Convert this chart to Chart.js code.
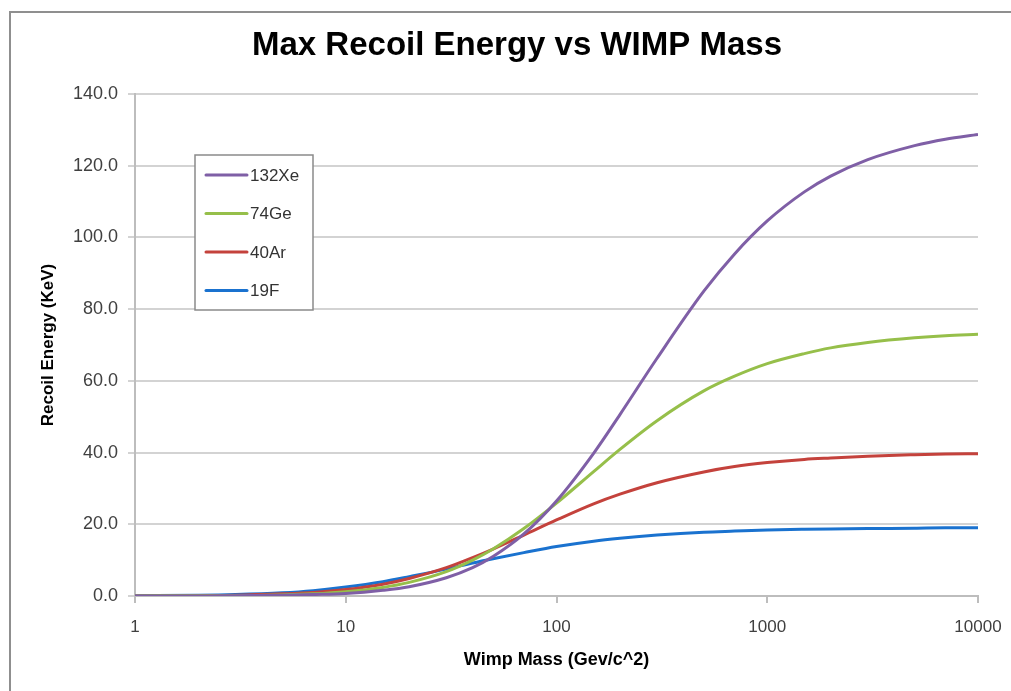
<!DOCTYPE html>
<html>
<head>
<meta charset="utf-8">
<title>Max Recoil Energy vs WIMP Mass</title>
<script src="https://cdn.jsdelivr.net/npm/chart.js@4"></script>
<style>
  html, body { margin: 0; padding: 0; background: #fff; }
  #wrap { position: relative; width: 1011px; height: 691px; overflow: hidden; }
  #frame {
    position: absolute; left: 9px; top: 11px; width: 1100px; height: 800px;
    border-left: 2px solid #8f8f8f; border-top: 2px solid #8f8f8f;
    box-sizing: border-box; pointer-events: none;
  }
  canvas { position: absolute; left: 0; top: 0; }
</style>
</head>
<body>
<div id="wrap">
  <canvas id="recoilChart" width="1011" height="691"></canvas>
  <div id="frame"></div>
</div>
<script>
// WIMP mass (GeV/c^2)
const masses = [1, 2, 3, 5, 7, 10, 15, 20, 30, 40, 50, 70, 100, 150, 200, 300, 500, 700, 1000, 1500, 2000, 3000, 5000, 7000, 10000];

// max recoil energy (keV) for each target nucleus
const xe132 = [0.0, 0.0, 0.1, 0.2, 0.4, 0.7, 1.6, 2.6, 5.1, 7.9, 11.0, 17.3, 26.5, 39.8, 50.6, 66.3, 85.0, 95.4, 104.6, 112.7, 117.1, 121.7, 125.6, 127.4, 128.7];
const ge74 = [0.0, 0.1, 0.1, 0.3, 0.6, 1.2, 2.4, 3.8, 6.8, 10.0, 13.1, 18.8, 25.9, 34.7, 40.9, 48.9, 57.2, 61.3, 64.8, 67.6, 69.2, 70.7, 72.0, 72.6, 73.0];
const ar40 = [0.0, 0.1, 0.2, 0.6, 1.0, 1.8, 3.3, 4.9, 7.9, 10.7, 13.1, 17.0, 21.2, 25.7, 28.4, 31.6, 34.6, 36.1, 37.2, 38.1, 38.5, 39.0, 39.4, 39.6, 39.7];
const f19 = [0.1, 0.2, 0.4, 0.9, 1.5, 2.5, 4.0, 5.4, 7.5, 9.2, 10.4, 12.1, 13.8, 15.3, 16.1, 17.0, 17.8, 18.1, 18.4, 18.6, 18.7, 18.8, 18.9, 19.0, 19.0];

const seriesNames = ["132Xe", "74Ge", "40Ar", "19F"];
const massTicks = [1, 10, 100, 1000, 10000];
const chartTitle = "Max Recoil Energy vs WIMP Mass";

const FONT = "'Liberation Sans', Arial, sans-serif";
const colors = ["#7f5fa6", "#96bf4a", "#c4423c", "#1a72cf"];

const toPoints = (vals) => vals.map((v, i) => ({ x: masses[i], y: v }));

// title drawn by hand so it can sit a little right of the canvas centre
const topTitle = {
  id: "topTitle",
  afterDraw(chart) {
    const { ctx } = chart;
    ctx.save();
    ctx.font = "bold 33px " + FONT;
    ctx.fillStyle = "#000";
    ctx.textAlign = "center";
    ctx.textBaseline = "middle";
    ctx.fillText(chartTitle, 517, 46);
    ctx.restore();
  },
};

// legend box drawn inside the plot area, top-left
const boxLegend = {
  id: "boxLegend",
  afterDraw(chart) {
    const { ctx, chartArea } = chart;
    const x0 = chartArea.left + 60;
    const y0 = chartArea.top + 61;
    const w = 118, h = 155;
    ctx.save();
    ctx.fillStyle = "#fff";
    ctx.fillRect(x0, y0, w, h);
    ctx.strokeStyle = "#8a8a8a";
    ctx.lineWidth = 1.5;
    ctx.strokeRect(x0, y0, w, h);
    ctx.font = "17px " + FONT;
    ctx.textBaseline = "middle";
    chart.data.datasets.forEach((ds, i) => {
      const y = y0 + 20 + i * 38.5;
      ctx.strokeStyle = ds.borderColor;
      ctx.lineWidth = 3;
      ctx.lineCap = "round";
      ctx.beginPath();
      ctx.moveTo(x0 + 11, y);
      ctx.lineTo(x0 + 52, y);
      ctx.stroke();
      ctx.fillStyle = "#333";
      ctx.fillText(ds.label, x0 + 55, y + 1);
    });
    ctx.restore();
  },
};

const ctx = document.getElementById("recoilChart").getContext("2d");
new Chart(ctx, {
  type: "line",
  data: {
    datasets: [xe132, ge74, ar40, f19].map((vals, i) => ({
      label: seriesNames[i],
      data: toPoints(vals),
      borderColor: colors[i],
      backgroundColor: colors[i],
      borderWidth: 3,
      pointRadius: 0,
      cubicInterpolationMode: "monotone",
    })),
  },
  options: {
    responsive: false,
    animation: false,
    layout: { padding: { left: 25, right: 33, top: 94, bottom: 0 } },
    plugins: {
      legend: { display: false },
      tooltip: { enabled: false },
      title: { display: false },
    },
    scales: {
      x: {
        type: "logarithmic",
        min: 1,
        max: 10000,
        afterBuildTicks: (scale) => {
          scale.ticks = massTicks.map((v) => ({ value: v }));
        },
        afterFit: (scale) => {
          scale.height = 95;
          // the end labels fit inside the layout padding
          scale.paddingLeft = 0;
          scale.paddingRight = 0;
        },
        ticks: {
          color: "#404040",
          font: { family: FONT, size: 17 },
          padding: 14,
          maxRotation: 0,
          callback: (v) => String(v),
        },
        grid: {
          drawOnChartArea: false,
          drawTicks: true,
          tickLength: 7,
          color: "#bdbdbd",
          lineWidth: 2,
        },
        border: { color: "#bdbdbd", width: 2 },
        title: {
          display: true,
          text: "Wimp Mass (Gev/c^2)",
          color: "#000",
          font: { family: FONT, size: 18, weight: "bold" },
          padding: { top: 0, bottom: 20 },
        },
      },
      y: {
        min: 0,
        max: 140,
        afterFit: (scale) => {
          scale.width = 110;
        },
        ticks: {
          stepSize: 20,
          color: "#404040",
          font: { family: FONT, size: 18 },
          padding: 10,
          callback: (v) => v.toFixed(1),
        },
        grid: {
          color: "#d3d3d3",
          lineWidth: 2,
          drawTicks: true,
          tickLength: 7,
        },
        border: { color: "#bdbdbd", width: 2 },
        title: {
          display: true,
          text: "Recoil Energy (KeV)",
          color: "#000",
          font: { family: FONT, size: 17, weight: "bold" },
          padding: { top: 13, bottom: 0 },
        },
      },
    },
  },
  plugins: [topTitle, boxLegend],
});
</script>
</body>
</html>
